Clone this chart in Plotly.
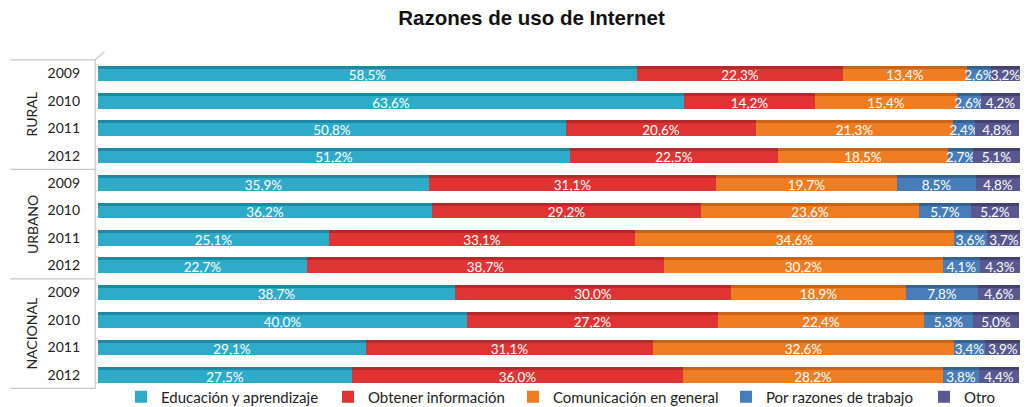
import numpy as np
import plotly.graph_objects as go

groups = ["RURAL", "URBANO", "NACIONAL"]
years = ["2009", "2010", "2011", "2012"]

series_names = ["Educación y aprendizaje", "Obtener información", "Comunicación en general",
                "Por razones de trabajo", "Otro"]

educacion = [58.5, 63.6, 50.8, 51.2, 35.9, 36.2, 25.1, 22.7, 38.7, 40.0, 29.1, 27.5]
obtener = [22.3, 14.2, 20.6, 22.5, 31.1, 29.2, 33.1, 38.7, 30.0, 27.2, 31.1, 36.0]
comunicacion = [13.4, 15.4, 21.3, 18.5, 19.7, 23.6, 34.6, 30.2, 18.9, 22.4, 32.6, 28.2]
trabajo = [2.6, 2.6, 2.4, 2.7, 8.5, 5.7, 3.6, 4.1, 7.8, 5.3, 3.4, 3.8]
otro = [3.2, 4.2, 4.8, 5.1, 4.8, 5.2, 3.7, 4.3, 4.6, 5.0, 3.9, 4.4]

colors = ["#2EABC9", "#E03434", "#F07D22", "#477DB8", "#5A5890"]
dark_colors = ["#1F89A3", "#B42A2A", "#C96418", "#36638F", "#44426E"]

values = [educacion, obtener, comunicacion, trabajo, otro]

# legend text start positions (px)
legend_text_px = [163, 370, 555, 768, 966]

cats = [f"{g} {y}" for g in groups for y in years]
tick_text = [y for g in groups for y in years]

fig = go.Figure()
bases = np.zeros(len(cats))
legend_keys = ["legend", "legend2", "legend3", "legend4", "legend5"]
for name, vals, col, dcol, lk in zip(series_names, values, colors, dark_colors, legend_keys):
    vals = np.array(vals)
    # darker top strip (3D look)
    fig.add_trace(go.Bar(
        y=cats, x=vals, base=bases, orientation="h",
        marker=dict(color=dcol, line=dict(width=0)),
        width=0.57, offset=-0.285, showlegend=False, hoverinfo="skip",
    ))
    fig.add_trace(go.Bar(
        y=cats, x=vals, base=bases, orientation="h", name=name, legend=lk,
        marker=dict(color=col, line=dict(width=0)),
        width=0.46, offset=-0.175,
        text=[f"{v:.1f}".replace(".", ",") + "%" for v in vals],
        textposition="inside", insidetextanchor="middle", textangle=0,
        textfont=dict(color="white", size=13.5, family="Lato"),
    ))
    bases = bases + vals

shapes = []
for b in [-0.5, 3.5, 7.5, 11.5]:
    shapes.append(dict(type="line", xref="paper", yref="y", x0=-0.095, x1=-0.003,
                       y0=b, y1=b, line=dict(color="#C8C8C8", width=1.2)))
shapes.append(dict(type="line", xref="paper", yref="y", x0=-0.003, x1=-0.003,
                   y0=-0.5, y1=11.5, line=dict(color="#C8C8C8", width=1.2)))
shapes.append(dict(type="line", xref="paper", yref="y", x0=-0.003, x1=0.007,
                   y0=-0.5, y1=-0.8, line=dict(color="#C8C8C8", width=1.2)))

annotations = []
for i, g in enumerate(groups):
    annotations.append(dict(text=g, xref="paper", yref="y", x=-0.083, y=i * 4 + 1.5,
                            textangle=-90, showarrow=False,
                            font=dict(size=14, color="#222222", family="Lato")))

layout = dict(
    width=1032, height=407,
    barmode="overlay",
    bargap=0,
    paper_bgcolor="white", plot_bgcolor="white",
    margin=dict(l=98, r=12, t=51, b=18, autoexpand=False),
    title=dict(text="<b>Razones de uso de Internet</b>", x=0.515, xanchor="center",
               y=0.955, yanchor="middle",
               font=dict(family="Liberation Sans, Arial", size=20.5, color="#111111")),
    xaxis=dict(range=[0, 100], showgrid=False, showticklabels=False, zeroline=False,
               showline=False, fixedrange=True, automargin=False),
    yaxis=dict(categoryorder="array", categoryarray=cats, autorange="reversed",
               tickmode="array", tickvals=cats, ticktext=tick_text, ticks="",
               ticklabelstandoff=17, showgrid=False, showline=False, automargin=False,
               tickfont=dict(size=14, color="#222222", family="Lato")),
    uniformtext=dict(minsize=13.5, mode="show"),
    shapes=shapes, annotations=annotations,
    showlegend=True,
)
for lk, tx in zip(legend_keys, legend_text_px):
    layout[lk] = dict(orientation="h", xref="container", yref="container",
                      x=(tx - 42) / 1032, xanchor="left", y=10 / 407, yanchor="middle",
                      font=dict(size=15, color="#222222", family="Lato"),
                      bgcolor="rgba(0,0,0,0)", itemwidth=30)
fig.update_layout(**layout)

fig.write_html("out.html", config={"displayModeBar": False},
               post_script="document.body.style.margin='0';")
